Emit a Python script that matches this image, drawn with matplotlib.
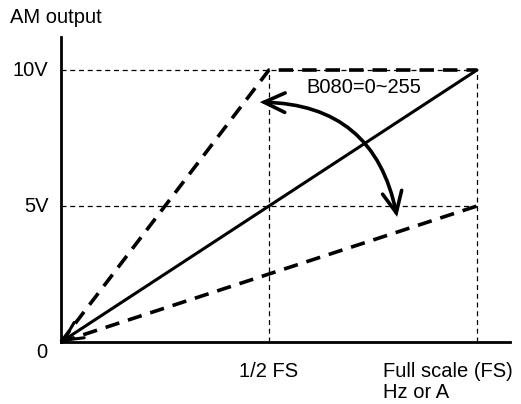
import matplotlib
matplotlib.use("Agg")
import matplotlib.pyplot as plt
from matplotlib.patches import FancyArrowPatch

plt.rcParams['font.family'] = ['Liberation Sans', 'DejaVu Sans']

# x in fractions of full scale, y in volts
half_fs = 0.5
full_fs = 1.0
v_max = 10
v_mid = 5

# characteristic lines
steep_x = [0, half_fs, full_fs]
steep_y = [0, v_max, v_max]
low_x = [0, full_fs]
low_y = [0, v_mid]
main_x = [full_fs, 0]
main_y = [v_max, 0]

# curved gain arrow end points
arc_start = (0.478, 8.82)
arc_end = (0.808, 4.6)

fig = plt.figure(figsize=(5.21, 4.04), dpi=100)
ax = fig.add_axes([0, 0, 1, 1])
ax.set_xlim(-0.1466, 1.1058)
ax.set_ylim(-2.279, 12.574)
ax.axis('off')

# axes
ax.plot([0, 0], [0, 11.2], color='black', lw=2)
ax.plot([0, 1.08], [0, 0], color='black', lw=2)

# thin guide lines
ax.plot([0, full_fs], [v_max, v_max], color='black', lw=0.9, ls=(0, (4, 3)))
ax.plot([0, full_fs], [v_mid, v_mid], color='black', lw=0.9, ls=(0, (4, 3)))
ax.plot([half_fs, half_fs], [0, v_max], color='black', lw=0.9, ls=(0, (4, 3)))
ax.plot([full_fs, full_fs], [0, v_max], color='black', lw=0.9, ls=(0, (4, 3)))

# dashed characteristics
ax.plot(steep_x, steep_y, color='black', lw=2.6, ls=(0, (4, 2.5)))
ax.plot(low_x, low_y, color='black', lw=2.6, ls=(0, (4, 2.5)))

# solid line with open arrow at origin
ax.annotate('', xy=(main_x[1], main_y[1]), xytext=(main_x[0], main_y[0]),
            arrowprops=dict(arrowstyle='->,head_length=0.6,head_width=0.3',
                            color='black', lw=2.2,
                            mutation_scale=22, shrinkA=0, shrinkB=0))

# curved double arrow
arc = FancyArrowPatch(arc_start, arc_end, connectionstyle='arc3,rad=-0.4',
                      arrowstyle='<->,head_length=0.75,head_width=0.35',
                      color='black', lw=2.6, mutation_scale=20,
                      shrinkA=0, shrinkB=0, joinstyle='miter')
ax.add_patch(arc)

fs = 14.5
ax.text(-0.1226, 11.94, 'AM output', fontsize=fs, va='center', ha='left')
ax.text(-0.03, v_max, '10V', fontsize=fs, va='center', ha='right')
ax.text(-0.03, v_mid, '5V', fontsize=fs, va='center', ha='right')
ax.text(-0.045, -0.4, '0', fontsize=fs, va='center', ha='center')
ax.text(half_fs, -1.1, '1/2 FS', fontsize=fs, va='center', ha='center')
ax.text(0.774, -1.1, 'Full scale (FS)', fontsize=fs, va='center', ha='left')
ax.text(0.774, -1.87, 'Hz or A', fontsize=fs, va='center', ha='left')
ax.text(0.728, 9.34, 'B080=0~255', fontsize=fs, va='center', ha='center')

fig.savefig('out.png', dpi=100)
